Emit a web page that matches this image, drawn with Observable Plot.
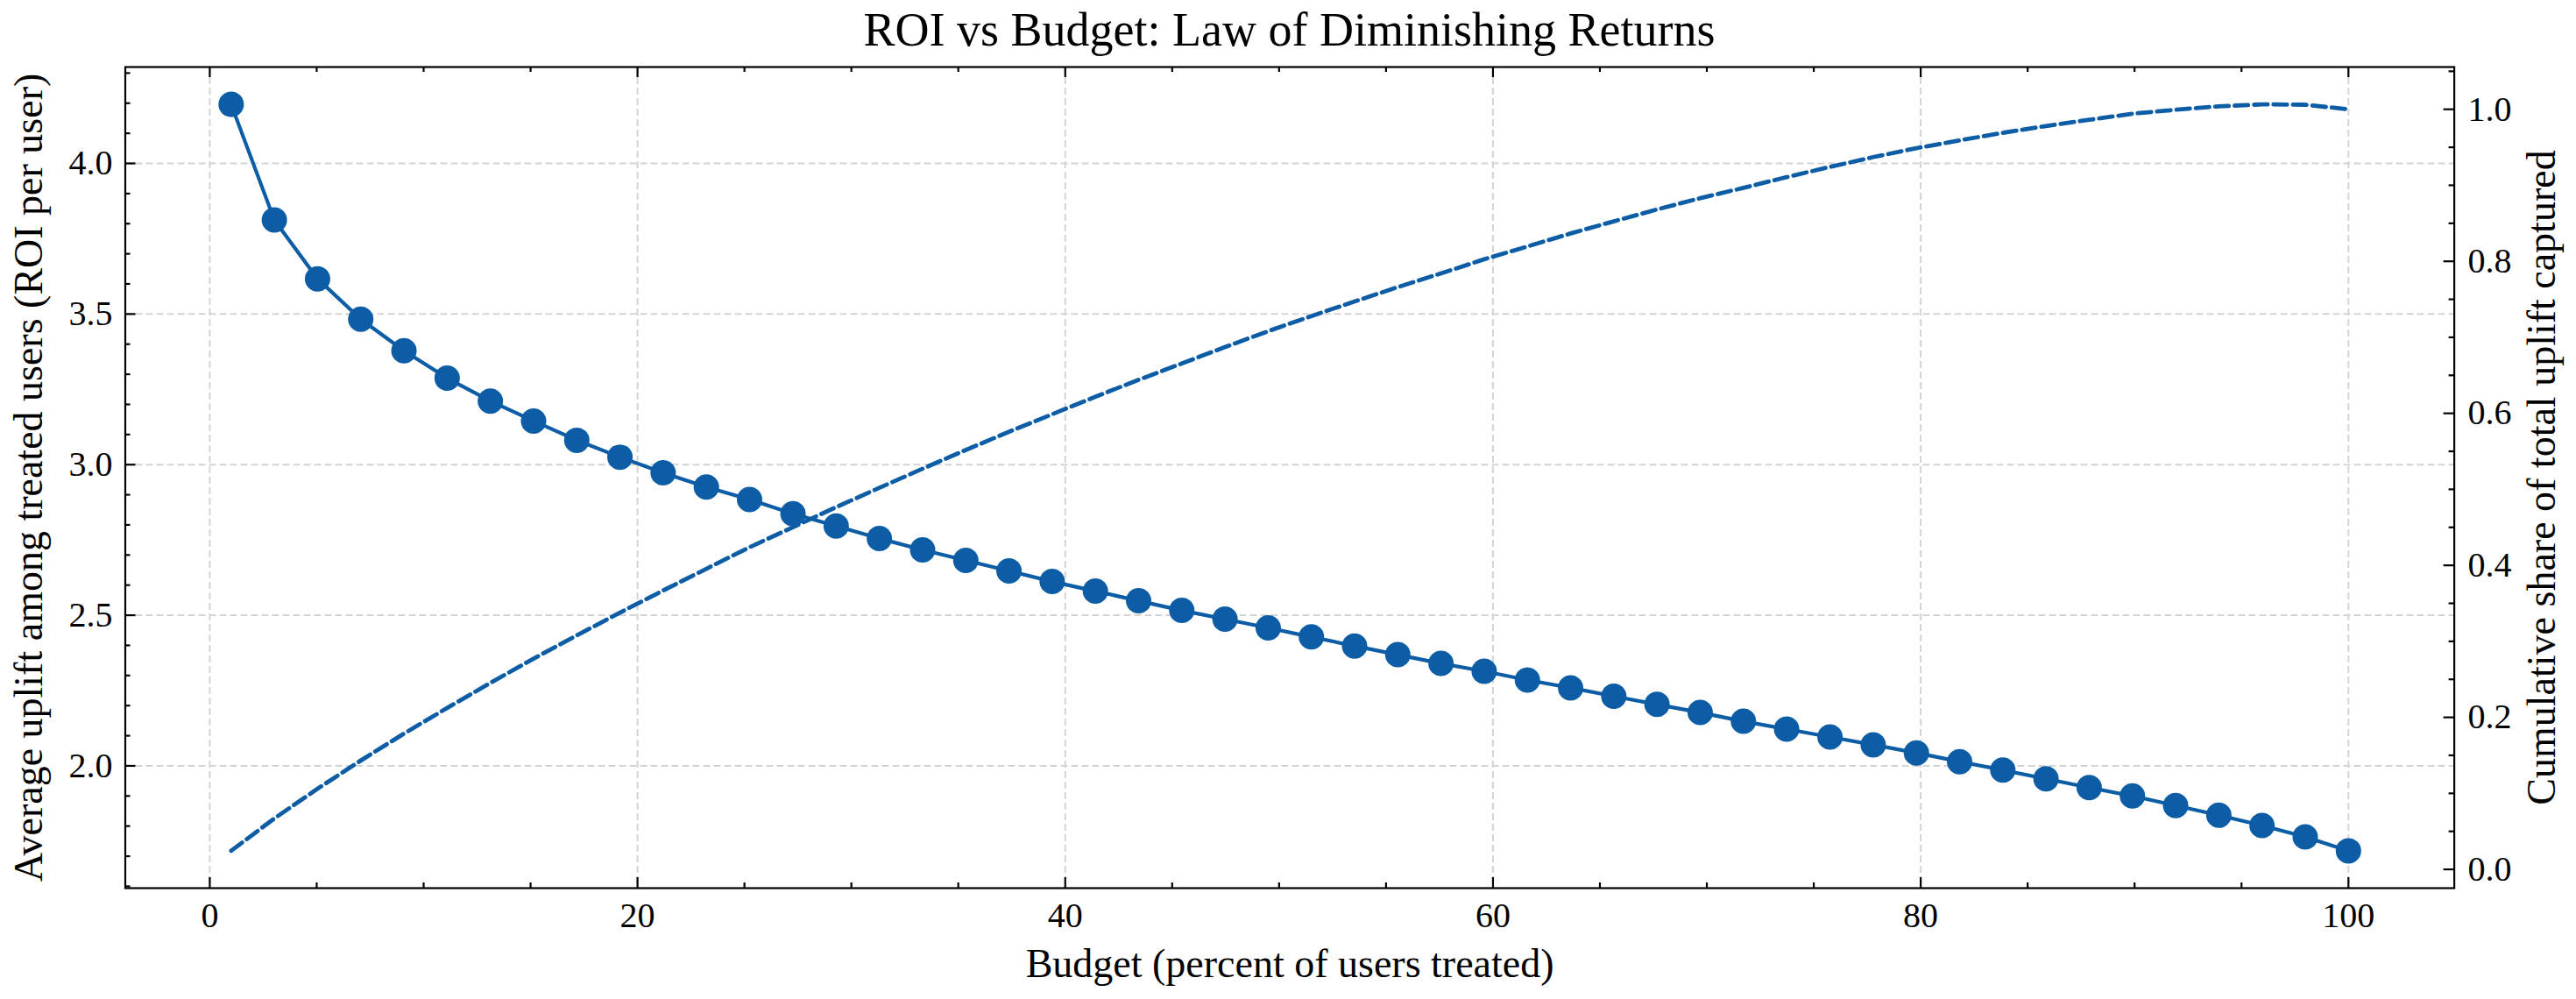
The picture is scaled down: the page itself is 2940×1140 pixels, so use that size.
<!DOCTYPE html>
<html>
<head>
<meta charset="utf-8">
<script src="https://cdn.jsdelivr.net/npm/d3@7"></script>
<script src="https://cdn.jsdelivr.net/npm/@observablehq/plot@0.6"></script>
<style>
  html, body { margin: 0; padding: 0; background: #fff; }
  #wrap { width: 2940px; height: 1140px; background: #fff; }
  #title {
    width: 2940px; height: 64px; box-sizing: border-box;
    padding: 4px 139.4px 0 142.5px; line-height: 60px;
    font-family: "Liberation Serif", serif; font-size: 54px;
    text-align: center; color: #000; white-space: nowrap;
  }
</style>
</head>
<body>
<div id="wrap">
  <div id="title"></div>
  <div id="chart"></div>
</div>
<script>
// ---- Data ----
const titleText = "ROI vs Budget: Law of Diminishing Returns";
const xLabel = "Budget (percent of users treated)";
const yLeftLabel = "Average uplift among treated users (ROI per user)";
const yRightLabel = "Cumulative share of total uplift captured";

const budget = [1.00, 3.02, 5.04, 7.06, 9.08, 11.10, 13.12, 15.14, 17.16, 19.18,
  21.20, 23.22, 25.24, 27.27, 29.29, 31.31, 33.33, 35.35, 37.37, 39.39,
  41.41, 43.43, 45.45, 47.47, 49.49, 51.51, 53.53, 55.55, 57.57, 59.59,
  61.61, 63.63, 65.65, 67.67, 69.69, 71.71, 73.73, 75.76, 77.78, 79.80,
  81.82, 83.84, 85.86, 87.88, 89.90, 91.92, 93.94, 95.96, 97.98, 100.00];

const avgUplift = [4.196, 3.812, 3.617, 3.483, 3.378, 3.287, 3.211, 3.145, 3.081, 3.025,
  2.973, 2.926, 2.884, 2.837, 2.796, 2.755, 2.717, 2.682, 2.647, 2.612,
  2.580, 2.548, 2.516, 2.487, 2.458, 2.428, 2.398, 2.369, 2.340, 2.314,
  2.285, 2.259, 2.231, 2.204, 2.177, 2.148, 2.122, 2.096, 2.070, 2.043,
  2.014, 1.986, 1.957, 1.928, 1.900, 1.868, 1.836, 1.802, 1.764, 1.718];

const cumShare = [0.0244, 0.0670, 0.1061, 0.1432, 0.1786, 0.2124, 0.2453, 0.2772, 0.3078, 0.3378,
  0.3669, 0.3955, 0.4238, 0.4502, 0.4766, 0.5020, 0.5271, 0.5518, 0.5757, 0.5988,
  0.6218, 0.6441, 0.6656, 0.6872, 0.7081, 0.7280, 0.7472, 0.7660, 0.7841, 0.8027,
  0.8195, 0.8367, 0.8526, 0.8682, 0.8831, 0.8966, 0.9108, 0.9242, 0.9371, 0.9489,
  0.9591, 0.9691, 0.9780, 0.9862, 0.9942, 0.9994, 1.0039, 1.0065, 1.0060, 1.0000];

const xMajorTicks = [0, 20, 40, 60, 80, 100];
const xMinorTicks = [5, 10, 15, 25, 30, 35, 45, 50, 55, 65, 70, 75, 85, 90, 95];
const yLeftMajorTicks = [2.0, 2.5, 3.0, 3.5, 4.0];
const yLeftMinorTicks = [1.6, 1.7, 1.8, 1.9, 2.1, 2.2, 2.3, 2.4, 2.6, 2.7, 2.8, 2.9,
  3.1, 3.2, 3.3, 3.4, 3.6, 3.7, 3.8, 3.9, 4.1, 4.2, 4.3];
const yRightMajorTicks = [0.0, 0.2, 0.4, 0.6, 0.8, 1.0];
const yRightMinorTicks = [0.05, 0.1, 0.15, 0.25, 0.3, 0.35, 0.45, 0.5, 0.55, 0.65, 0.7, 0.75,
  0.85, 0.9, 0.95, 1.05];

const xDomain = [-3.95, 104.95];
const yLeftDomain = [1.594, 4.320];
const yRightDomain = [-0.0247, 1.0556];

// ---- Layout / style ----
const color = "#0C5DA5";
const W = 2940, H = 1076;
const mL = 142.5, mR = 139.4, mT = 12, mB = 127;
const innerW = W - mL - mR, innerH = H - mT - mB;
const major = 12, minor = 6, tickW = 2.2;

// share (right axis) -> left-axis units
const toLeft = d3.scaleLinear().domain(yRightDomain).range(yLeftDomain);

const rows = budget.map((b, i) => ({b, roi: avgUplift[i], share: toLeft(cumShare[i])}));

document.getElementById("title").textContent = titleText;

const gridStyle = {stroke: "#d4d4d4", strokeOpacity: 1, strokeWidth: 2, strokeDasharray: "8,4"};

const chart = Plot.plot({
  width: W, height: H,
  marginLeft: mL, marginRight: mR, marginTop: mT, marginBottom: mB,
  style: {fontFamily: "'Liberation Serif', serif", background: "white", color: "black"},
  x: {domain: xDomain},
  y: {domain: yLeftDomain},
  marks: [
    Plot.gridX(xMajorTicks, gridStyle),
    Plot.gridY(yLeftMajorTicks, gridStyle),
    Plot.line(rows, {x: "b", y: "roi", stroke: color, strokeWidth: 4.2}),
    Plot.dot(rows, {x: "b", y: "roi", r: 14.5, fill: color, stroke: null}),
    Plot.line(rows, {x: "b", y: "share", stroke: color, strokeWidth: 4.8, strokeDasharray: "15.5,6.7"}),
    Plot.frame({stroke: "black", strokeWidth: tickW}),
    // inward ticks: bottom & top
    Plot.tickX(xMajorTicks, {x: d => d, insetTop: innerH - major, stroke: "black", strokeWidth: tickW}),
    Plot.tickX(xMinorTicks, {x: d => d, insetTop: innerH - minor, stroke: "black", strokeWidth: tickW}),
    Plot.tickX(xMajorTicks, {x: d => d, insetBottom: innerH - major, stroke: "black", strokeWidth: tickW}),
    Plot.tickX(xMinorTicks, {x: d => d, insetBottom: innerH - minor, stroke: "black", strokeWidth: tickW}),
    // left ticks
    Plot.tickY(yLeftMajorTicks, {y: d => d, insetRight: innerW - major, stroke: "black", strokeWidth: tickW}),
    Plot.tickY(yLeftMinorTicks, {y: d => d, insetRight: innerW - minor, stroke: "black", strokeWidth: tickW}),
    // right ticks (share axis)
    Plot.tickY(yRightMajorTicks, {y: d => toLeft(d), insetLeft: innerW - major, stroke: "black", strokeWidth: tickW}),
    Plot.tickY(yRightMinorTicks, {y: d => toLeft(d), insetLeft: innerW - minor, stroke: "black", strokeWidth: tickW}),
    // tick labels
    Plot.axisX(xMajorTicks, {anchor: "bottom", tickSize: 0, tickPadding: 15.6, fontSize: 40, label: null, tickFormat: d => String(d)}),
    Plot.axisY(yLeftMajorTicks, {anchor: "left", tickSize: 0, tickPadding: 14.5, fontSize: 40, label: null, tickFormat: d => d.toFixed(1)}),
    Plot.axisY(yRightMajorTicks.map(d => toLeft(d)), {anchor: "right", tickSize: 0, tickPadding: 15.5, fontSize: 40, label: null,
      tickFormat: d => (Math.round(toLeft.invert(d) * 10) / 10).toFixed(1)}),
    // axis labels
    Plot.text([xLabel], {text: d => d, frameAnchor: "bottom", dy: 101, lineAnchor: "bottom", textAnchor: "middle", fontSize: 46, fill: "black"}),
    Plot.text([yLeftLabel], {text: d => d, frameAnchor: "left", dx: -95.5, rotate: -90, lineAnchor: "bottom", textAnchor: "middle", fontSize: 46, fill: "black"}),
    Plot.text([yRightLabel], {text: d => d, frameAnchor: "right", dx: 114.4, rotate: -90, lineAnchor: "bottom", textAnchor: "middle", fontSize: 46, fill: "black"})
  ]
});
document.getElementById("chart").appendChild(chart);
</script>
</body>
</html>
